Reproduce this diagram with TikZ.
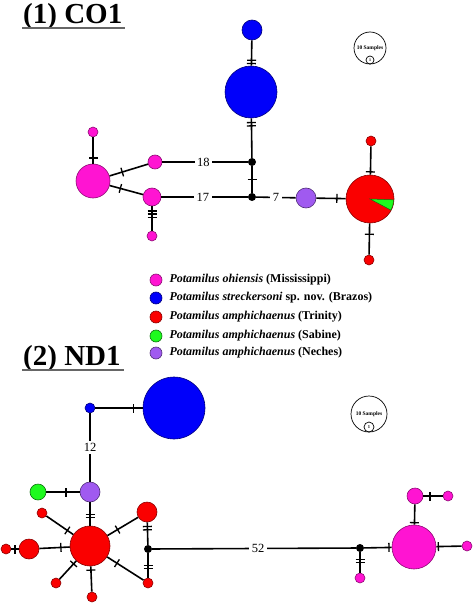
\documentclass[tikz,border=0pt]{standalone}
\usepackage{fontspec}
\setmainfont{Liberation Serif}
\usetikzlibrary{positioning}
\definecolor{hapPink}{RGB}{255,20,210}
\definecolor{hapBlue}{RGB}{0,0,250}
\definecolor{hapRed}{RGB}{250,0,0}
\definecolor{hapGreen}{RGB}{30,250,30}
\definecolor{hapPurple}{RGB}{160,90,240}
\tikzset{
  hap/.style={circle, inner sep=0pt, line width=0.6pt},
  pinkhap/.style={hap, draw=hapPink!55!black, fill=hapPink},
  bluehap/.style={hap, draw=hapBlue!50!black, fill=hapBlue},
  redhap/.style={hap, draw=hapRed!55!black, fill=hapRed},
  greenhap/.style={hap, draw=hapGreen!45!black, fill=hapGreen},
  purplehap/.style={hap, draw=hapPurple!50!black, fill=hapPurple},
  medvec/.style={circle, fill=black, inner sep=0pt, minimum size=8pt},
  link/.style={line width=1.6pt},
  mut/.style={sloped, inner sep=0pt, outer sep=0pt},
  steplbl/.style={fill=white, inner sep=2.5pt, font=\fontsize{12.5}{12.5}\selectfont},
  ttl/.style={anchor=base west, inner sep=0pt, font=\bfseries\fontsize{29}{29}\selectfont},
  uline/.style={draw=gray!80!black, line width=1.3pt},
  keydot/.style={hap, minimum size=12pt},
  keytxt/.style={inner sep=1pt, right=6pt of #1, font=\bfseries\fontsize{12}{12}\selectfont},
  sizering/.style={circle, draw, line width=0.7pt, inner sep=0pt},
}
\newcommand{\mutA}{\rule{1.3pt}{9pt}}
\newcommand{\mutB}{\rule{1.3pt}{9pt}\hspace{2pt}\rule{1.3pt}{9pt}}
\newcommand{\mutC}{\rule{1.3pt}{9pt}\hspace{1.8pt}\rule{1.3pt}{9pt}\hspace{1.8pt}\rule{1.3pt}{9pt}}

\begin{document}
\begin{tikzpicture}[x=1pt, y=-1pt]
  \useasboundingbox (0,0) rectangle (474,604);

  % (1) CO1
  \node[ttl] (ttlA) at (23,24) {(1) CO1};
  \draw[uline] ([xshift=-1pt, yshift=-4pt]ttlA.base west) -- ([xshift=3pt, yshift=-4pt]ttlA.base east);

  \node[bluehap, minimum size=20pt] (coBlueS) at (252,30) {};
  \node[bluehap, minimum size=52pt] (coBlueL) at (251,92) {};
  \node[medvec] (coMedA) at (252,162) {};
  \node[medvec] (coMedB) at (252,197) {};
  \node[pinkhap, minimum size=14pt] (coPink18) at (155,162) {};
  \node[pinkhap, minimum size=18pt] (coPink17) at (152,197) {};
  \node[pinkhap, minimum size=34pt] (coPinkL) at (93,181) {};
  \node[pinkhap, minimum size=10pt] (coPinkT) at (93,132) {};
  \node[pinkhap, minimum size=10pt] (coPinkB) at (152,236) {};
  \node[purplehap, minimum size=20pt] (coPurple) at (306,198) {};
  \node[redhap, minimum size=48pt] (coRedL) at (370,199) {};
  \fill[hapGreen, draw=hapGreen!45!black, line width=0.5pt] (coRedL.center) -- ++(2:23.7) arc[start angle=2, end angle=28, radius=23.7] -- cycle;
  \node[redhap, minimum size=10pt] (coRedT) at (371,141) {};
  \node[redhap, minimum size=10pt] (coRedB) at (369,260) {};

  \draw[link] (coBlueS) -- node[mut, pos=0.85] {\mutB} (coBlueL);
  \draw[link] (coBlueL) -- node[mut, pos=0.15] {\mutB} (coMedA);
  \draw[link] (coMedA) -- node[mut] {\mutA} (coMedB);
  \draw[link] (coMedA) -- node[steplbl, pos=0.52] {18} (coPink18);
  \draw[link] (coMedB) -- node[steplbl, pos=0.52] {17} (coPink17);
  \draw[link] (coMedB) -- node[steplbl] {7} (coPurple);
  \draw[link] (coPurple) -- node[mut, pos=0.7] {\mutA} (coRedL);
  \draw[link] (coRedL) -- node[mut, pos=0.1] {\mutA} (coRedT);
  \draw[link] (coRedL) -- node[mut, pos=0.35] {\mutA} (coRedB);
  \draw[link] (coPinkL) -- node[mut, pos=0.33] {\mutA} (coPink18);
  \draw[link] (coPinkL) -- node[mut, pos=0.32] {\mutA} (coPink17);
  \draw[link] (coPinkL) -- node[mut, pos=0.22] {\mutA} (coPinkT);
  \draw[link] (coPink17) -- node[mut, pos=0.32] {\mutC} (coPinkB);

  \node[sizering, minimum size=32pt, font=\bfseries\fontsize{5.5}{5.5}\selectfont] (coSizeBig) at (370,48) {10 Samples};
  \node[sizering, minimum size=8pt, font=\bfseries\fontsize{4}{4}\selectfont] (coSizeOne) at (370,60) {1};

  % legend
  \node[keydot, pinkhap] (keyPink) at (156,280) {};
  \node[keydot, bluehap] (keyBlue) at (156,298) {};
  \node[keydot, redhap] (keyRed) at (156,317) {};
  \node[keydot, greenhap] (keyGreen) at (156,336) {};
  \node[keydot, purplehap] (keyPurple) at (156,353) {};
  \node[keytxt=keyPink] (keyPinkTxt) {\textit{Potamilus ohiensis} (Mississippi)};
  \node[keytxt=keyBlue] (keyBlueTxt) {\textit{Potamilus streckersoni} sp. nov. (Brazos)};
  \node[keytxt=keyRed] (keyRedTxt) {\textit{Potamilus amphichaenus} (Trinity)};
  \node[keytxt=keyGreen] (keyGreenTxt) {\textit{Potamilus amphichaenus} (Sabine)};
  \node[keytxt=keyPurple] (keyPurpleTxt) {\textit{Potamilus amphichaenus} (Neches)};

  % (2) ND1
  \node[ttl] (ttlB) at (23,365) {(2) ND1};
  \draw[uline] ([xshift=-1pt, yshift=-5pt]ttlB.base west) -- ([xshift=3pt, yshift=-5pt]ttlB.base east);

  \node[bluehap, minimum size=10pt] (ndBlueS) at (90,408) {};
  \node[bluehap, minimum size=62pt] (ndBlueL) at (174,408) {};
  \node[purplehap, minimum size=20pt] (ndPurple) at (90,492) {};
  \node[greenhap, minimum size=16pt] (ndGreen) at (38,492) {};
  \node[redhap, minimum size=40pt] (ndRedL) at (90,546) {};
  \node[redhap, minimum size=20pt] (ndRedW) at (29,549) {};
  \node[redhap, minimum size=10pt] (ndRedWW) at (6,549) {};
  \node[redhap, minimum size=10pt] (ndRedNW) at (42,513) {};
  \node[redhap, minimum size=10pt] (ndRedSW) at (56,583) {};
  \node[redhap, minimum size=10pt] (ndRedS) at (92,597) {};
  \node[redhap, minimum size=20pt] (ndRedNE) at (147,512) {};
  \node[redhap, minimum size=10pt] (ndRedSE) at (148,583) {};
  \node[medvec] (ndMedA) at (148,549) {};
  \node[medvec] (ndMedB) at (360,548) {};
  \node[pinkhap, minimum size=10pt] (ndPinkS) at (360,578) {};
  \node[pinkhap, minimum size=44pt] (ndPinkL) at (414,547) {};
  \node[pinkhap, minimum size=16pt] (ndPinkU) at (415,496) {};
  \node[pinkhap, minimum size=10pt] (ndPinkUR) at (448,496) {};
  \node[pinkhap, minimum size=10pt] (ndPinkR) at (467,546) {};

  \draw[link] (ndBlueS) -- node[mut, pos=0.8] {\mutA} (ndBlueL);
  \draw[link] (ndBlueS) -- node[steplbl] {12} (ndPurple);
  \draw[link] (ndPurple) -- node[mut, pos=0.41] {\mutA} (ndGreen);
  \draw[link] (ndPurple) -- node[mut, pos=0.58] {\mutB} (ndRedL);
  \draw[link] (ndRedL) -- node[mut, pos=0.29] {\mutA} (ndRedW);
  \draw[link] (ndRedW) -- node[mut, pos=0.5] {\mutA} (ndRedWW);
  \draw[link] (ndRedL) -- node[mut, pos=0.22] {\mutA} (ndRedNW);
  \draw[link] (ndRedL) -- node[mut, pos=0.16] {\mutA} (ndRedSW);
  \draw[link] (ndRedL) -- node[mut, pos=0.15] {\mutA} (ndRedS);
  \draw[link] (ndRedL) -- node[mut, pos=0.33] {\mutA} (ndRedNE);
  \draw[link] (ndRedL) -- node[mut, pos=0.27] {\mutA} (ndRedSE);
  \draw[link] (ndRedNE) -- node[mut, pos=0.26] {\mutB} (ndMedA);
  \draw[link] (ndMedA) -- node[mut, pos=0.56] {\mutB} (ndRedSE);
  \draw[link] (ndMedA) -- node[steplbl, pos=0.52] {52} (ndMedB);
  \draw[link] (ndMedB) -- node[mut, pos=0.43] {\mutB} (ndPinkS);
  \draw[link] (ndMedB) -- node[mut, pos=0.9] {\mutA} (ndPinkL);
  \draw[link] (ndPinkL) -- node[mut, pos=0.1] {\mutA} (ndPinkU);
  \draw[link] (ndPinkU) -- node[mut, pos=0.35] {\mutA} (ndPinkUR);
  \draw[link] (ndPinkL) -- node[mut, pos=0.08] {\mutA} (ndPinkR);

  \node[sizering, minimum size=36pt, font=\bfseries\fontsize{5.5}{5.5}\selectfont] (ndSizeBig) at (369,414) {10 Samples};
  \node[sizering, minimum size=10pt, font=\bfseries\fontsize{4.5}{4.5}\selectfont] (ndSizeOne) at (369,427) {1};
\end{tikzpicture}
\end{document}
